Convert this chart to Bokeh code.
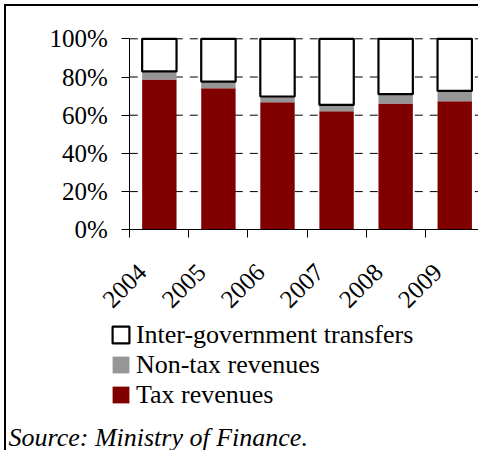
import math
from bokeh.plotting import figure
from bokeh.models import (Range1d, FixedTicker, Legend, LegendItem, Label, BoxAnnotation,
                          ColumnDataSource)
from bokeh.embed import file_html
from bokeh.resources import INLINE

# ---- data ----
years = ["2004", "2005", "2006", "2007", "2008", "2009"]
tax = [78.7, 74.1, 66.8, 62.1, 66.1, 67.3]
nontax = [4.2, 3.5, 3.0, 3.3, 4.9, 5.4]
transfers = [17.1, 22.4, 30.2, 34.6, 29.0, 27.3]
y_ticks = [0, 20, 40, 60, 80, 100]
y_tick_labels = ["0%", "20%", "40%", "60%", "80%", "100%"]
series_names = ["Inter-government transfers", "Non-tax revenues", "Tax revenues"]
source_text = "Source: Ministry of Finance."

FONT = "Liberation Serif"
FS = "25px"
FS_LEG = "26px"

# ---- layout (page pixel targets; canvas origin = page origin) ----
W_PX, H_PX = 478, 450
FRAME_L, Y100, Y0 = 129.3, 38.3, 229.3
CAT_W = 59.08
ppu = (Y0 - Y100) / 100.0    # pixels per percent

label_shift = 0.29           # tick-label anchor is left of category centre
idx = list(range(len(years)))
xc = [i + label_shift for i in idx]
b0 = label_shift - 0.5                       # left category boundary (y axis)
x_start = b0 - FRAME_L / CAT_W
x_end = b0 + (W_PX - FRAME_L) / CAT_W
y_start = (Y0 - H_PX) / ppu
y_end = Y0 / ppu

b1 = list(tax)
b2 = [t + n for t, n in zip(tax, nontax)]
top3 = [b + tr for b, tr in zip(b2, transfers)]
src = ColumnDataSource(dict(x=xc, tax=tax, b1=b1, b2=b2, top3=top3))

p = figure(width=W_PX, height=H_PX, output_backend="svg", toolbar_location=None,
           x_range=Range1d(x_start, x_end), y_range=Range1d(y_start, y_end),
           min_border_left=0, min_border_right=0, min_border_top=0, min_border_bottom=0)
p.outline_line_color = None
p.xgrid.visible = False
p.ygrid.visible = False

# dashed horizontal gridlines from the y axis to the right edge
grid_y = y_ticks[1:]
p.segment(x0=[b0] * len(grid_y), x1=[x_end] * len(grid_y), y0=grid_y, y1=grid_y,
          line_color="black", line_width=1, line_dash="8 7", level="underlay")

W = 0.582
r_tax = p.vbar(x="x", bottom=0, top="tax", width=W, source=src,
               fill_color="#800000", line_color=None)
r_non = p.vbar(x="x", bottom="b1", top="b2", width=W, source=src,
               fill_color="#969696", line_color=None)
r_tr = p.vbar(x="x", bottom="b2", top="top3", width=W, source=src,
              fill_color="white", line_color="black", line_width=2.2)

# y axis
yax = p.yaxis[0]
yax.fixed_location = b0
yax.ticker = FixedTicker(ticks=y_ticks)
yax.major_label_overrides = {t: l for t, l in zip(y_ticks, y_tick_labels)}
yax.bounds = (0, 100)
yax.major_tick_out = 8
yax.major_tick_in = 0
yax.minor_tick_out = 0
yax.minor_tick_line_color = None
yax.major_label_standoff = 14
yax.major_label_text_font = FONT
yax.major_label_text_font_size = FS
yax.major_label_text_color = "black"
yax.axis_line_color = "black"
yax.major_tick_line_color = "black"

# x axis
xax = p.xaxis[0]
xax.fixed_location = 0
xax.bounds = (b0, x_end)
xax.ticker = FixedTicker(ticks=idx, minor_ticks=[i + b0 for i in range(len(years) + 1)])
xax.major_label_overrides = {i: y for i, y in zip(idx, years)}
xax.major_tick_out = 0
xax.major_tick_in = 0
xax.major_tick_line_color = None
xax.minor_tick_out = 8
xax.minor_tick_in = 0
xax.minor_tick_line_color = "black"
xax.axis_line_color = "black"
xax.major_label_orientation = math.pi / 4
xax.major_label_standoff = 30
xax.major_label_text_font = FONT
xax.major_label_text_font_size = FS
xax.major_label_text_color = "black"

legend = Legend(items=[LegendItem(label=series_names[0], renderers=[r_tr]),
                       LegendItem(label=series_names[1], renderers=[r_non]),
                       LegendItem(label=series_names[2], renderers=[r_tax])],
                location=(109.9, 40.5), orientation="vertical",
                glyph_width=21, glyph_height=21, label_standoff=5,
                label_text_font=FONT, label_text_font_size=FS_LEG,
                label_text_color="black", label_height=20,
                spacing=-1, padding=0, margin=0,
                border_line_color=None, background_fill_alpha=0)
p.add_layout(legend, "center")

p.add_layout(Label(x=8, y=13.5, x_units="screen", y_units="screen",
                   text=source_text, text_font=FONT, text_font_size=FS_LEG,
                   text_font_style="italic", text_baseline="alphabetic",
                   text_color="black"))

# outer border lines (left and top)
p.add_layout(BoxAnnotation(left=3.5, right=5.5, bottom=0, top=H_PX - 3.5,
                           left_units="screen", right_units="screen",
                           bottom_units="screen", top_units="screen",
                           fill_color="black", fill_alpha=1, line_color=None))
p.add_layout(BoxAnnotation(left=3.5, right=W_PX, bottom=H_PX - 5.5, top=H_PX - 3.5,
                           left_units="screen", right_units="screen",
                           bottom_units="screen", top_units="screen",
                           fill_color="black", fill_alpha=1, line_color=None))

open("out.html", "w").write(file_html(p, INLINE))
